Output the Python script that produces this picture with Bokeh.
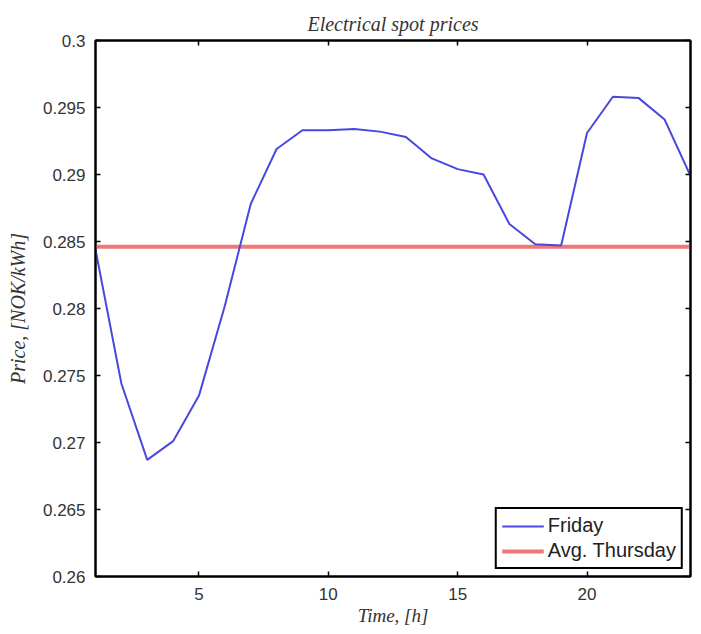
from bokeh.plotting import figure
from bokeh.models import LinearAxis, CustomJSTickFormatter, FixedTicker, Legend, LegendItem, Range1d
from bokeh.embed import file_html
from bokeh.resources import INLINE

hours = list(range(1, 25))
friday = [0.2844, 0.2744, 0.2687, 0.2701, 0.2735, 0.2802, 0.2878, 0.2919, 0.2933, 0.2933,
          0.2934, 0.2932, 0.2928, 0.2912, 0.2904, 0.2900, 0.2863, 0.2848, 0.2847, 0.2931,
          0.2958, 0.2957, 0.2941, 0.2899]
avg_thursday = [0.2846] * 24
x_ticks = [5, 10, 15, 20]
y_ticks = [0.26, 0.265, 0.27, 0.275, 0.28, 0.285, 0.29, 0.295, 0.3]

p = figure(width=701, height=634, output_backend="svg", toolbar_location=None,
           x_range=Range1d(1, 24), y_range=Range1d(0.26, 0.3),
           min_border_left=95, min_border_right=11, min_border_top=40, min_border_bottom=58,
           x_axis_label="Time, [h]", y_axis_label="Price, [NOK/kWh]",
           title="Electrical spot prices")
p.title.align = "center"
p.title.text_font = "Liberation Serif"
p.title.text_font_style = "italic"
p.title.text_font_size = "20px"
p.title.text_color = "#333333"
p.title.standoff = 12

p.xgrid.visible = False
p.ygrid.visible = False
p.outline_line_color = "black"
p.outline_line_width = 2
p.background_fill_color = "white"
p.border_fill_color = "white"

fmt = CustomJSTickFormatter(code="return (Math.round(tick*1000)/1000).toString();")
blank = CustomJSTickFormatter(code="return '';")

for ax in p.xaxis:
    ax.ticker = FixedTicker(ticks=x_ticks)
for ax in p.yaxis:
    ax.ticker = FixedTicker(ticks=y_ticks)
    ax.formatter = fmt

for ax in list(p.xaxis) + list(p.yaxis):
    ax.major_tick_in = 5
    ax.major_tick_out = 0
    ax.minor_tick_in = 0
    ax.minor_tick_out = 0
    ax.axis_line_color = "black"
    ax.axis_line_width = 2
    ax.major_tick_line_color = "black"
    ax.major_tick_line_width = 1.5
    ax.major_label_text_font = "Liberation Sans"
    ax.major_label_text_font_size = "17px"
    ax.major_label_text_color = "#333333"
    ax.axis_label_text_font = "Liberation Serif"
    ax.axis_label_text_font_style = "italic"
    ax.axis_label_text_font_size = "19px"
    ax.axis_label_text_color = "#333333"

p.yaxis.axis_label_text_font_size = "20px"
p.xaxis.major_label_standoff = 11
p.yaxis.major_label_standoff = 10
p.xaxis.axis_label_standoff = 2
p.yaxis.axis_label_standoff = 11

top = LinearAxis(ticker=FixedTicker(ticks=x_ticks), formatter=blank,
                 major_tick_in=5, major_tick_out=0, minor_tick_in=0, minor_tick_out=0,
                 axis_line_color="black", axis_line_width=2, major_tick_line_width=1.5,
                 major_label_standoff=0)
right = LinearAxis(ticker=FixedTicker(ticks=y_ticks), formatter=blank,
                   major_tick_in=5, major_tick_out=0, minor_tick_in=0, minor_tick_out=0,
                   axis_line_color="black", axis_line_width=2, major_tick_line_width=1.5,
                   major_label_standoff=0)
p.add_layout(top, "above")
p.add_layout(right, "right")

r_red = p.line(hours, avg_thursday, line_color="#f07878", line_width=4)
r_blue = p.line(hours, friday, line_color="#4848e0", line_width=2)

legend = Legend(items=[LegendItem(label="Friday", renderers=[r_blue]),
                       LegendItem(label="Avg. Thursday", renderers=[r_red])],
                location="bottom_right")
legend.label_text_font = "Liberation Sans"
legend.label_text_font_size = "20px"
legend.label_text_color = "#222222"
legend.label_height = 22
legend.border_line_color = "black"
legend.border_line_alpha = 1.0
legend.border_line_width = 2
legend.padding = 5
legend.spacing = 2
legend.margin = 7
legend.glyph_width = 42
legend.label_standoff = 4
p.add_layout(legend)

open("out.html", "w").write(file_html(p, INLINE))
